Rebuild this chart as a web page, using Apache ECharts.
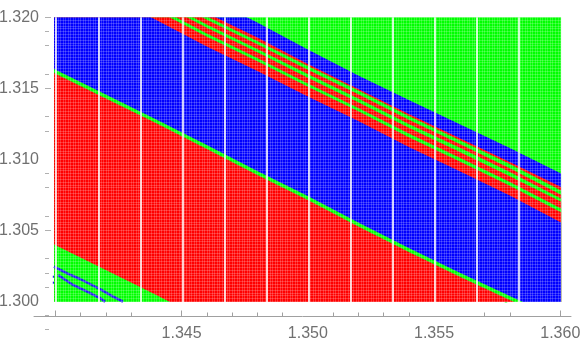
<!DOCTYPE html>
<html>
<head>
<meta charset="utf-8">
<style>
  html, body { margin: 0; padding: 0; background: #fff; }
  #chart { width: 581px; height: 343px; }
</style>
<script src="https://cdn.jsdelivr.net/npm/echarts@6/dist/echarts.min.js"></script>
</head>
<body>
<div id="chart"></div>
<script>
    // columns the long band edges were read at
    var columns = [1.33995, 1.342, 1.344, 1.346, 1.348, 1.350, 1.352, 1.354, 1.356, 1.358, 1.36003];

    // upper edge of each band at those columns, values above 1.320 are cut by the grid
    var blueTop = [1.32671, 1.32492, 1.32315, 1.32143, 1.31963, 1.31773, 1.31590, 1.31418, 1.31249, 1.31080, 1.30900];
    var redTop = [1.32566, 1.32389, 1.32217, 1.32030, 1.31858, 1.31671, 1.31495, 1.31319, 1.31150, 1.30981, 1.30805];
    var stripe3Top = [1.32544, 1.32368, 1.32192, 1.32006, 1.31833, 1.31657, 1.31484, 1.31305, 1.31136, 1.30967, 1.30780];
    var red3Top = [1.32521, 1.32345, 1.32169, 1.31983, 1.31810, 1.31630, 1.31458, 1.31278, 1.31109, 1.30937, 1.30750];
    var stripe2Top = [1.32488, 1.32312, 1.32136, 1.31949, 1.31777, 1.31601, 1.31428, 1.31249, 1.31083, 1.30911, 1.30724];
    var red2Top = [1.32465, 1.32289, 1.32113, 1.31926, 1.31754, 1.31574, 1.31402, 1.31222, 1.31053, 1.30880, 1.30701];
    var stripe1Top = [1.32425, 1.32249, 1.32073, 1.31886, 1.31713, 1.31534, 1.31361, 1.31182, 1.31013, 1.30840, 1.30654];
    var red1Top = [1.32401, 1.32225, 1.32049, 1.31863, 1.31690, 1.31511, 1.31338, 1.31155, 1.30986, 1.30813, 1.30627];
    var lowerBlueTop = [1.32333, 1.32157, 1.31981, 1.31795, 1.31622, 1.31442, 1.31270, 1.31087, 1.30918, 1.30745, 1.30555];

    // edges that run out through the bottom of the data
    var lineGreenTop = [[1.33995, 1.31636], [1.342, 1.31456], [1.344, 1.31280], [1.346, 1.31101], [1.348, 1.30918], [1.350, 1.30742], [1.352, 1.30555], [1.354, 1.30375], [1.356, 1.30203], [1.358, 1.30037], [1.35852, 1.29995]];
    var lowerRedTop = [[1.33995, 1.31608], [1.342, 1.31429], [1.344, 1.31253], [1.346, 1.31073], [1.348, 1.30890], [1.350, 1.30714], [1.352, 1.30527], [1.354, 1.30348], [1.356, 1.30175], [1.358, 1.30010], [1.35818, 1.29995]];
    var cornerGreenTop = [[1.33995, 1.30400], [1.342, 1.30220], [1.344, 1.30044], [1.34454, 1.29995]];

    // thin blue tracks and stray cells
    var blueTrack1 = [[1.33995, 1.30244], [1.34045, 1.30199], [1.34098, 1.30157], [1.34177, 1.30086], [1.34229, 1.30033], [1.34268, 1.29997]];
    var blueTrack2 = [[1.34011, 1.30185], [1.34070, 1.30115], [1.34126, 1.30068], [1.34177, 1.30023], [1.34197, 1.29997]];
    var blueCells = [[1.33995, 1.30173], [1.33995, 1.30131], [1.34011, 1.30131], [1.34041, 1.30150], [1.34070, 1.30087], [1.34098, 1.30068], [1.34126, 1.30023], [1.34157, 1.30009]];
    var greenCells = [[1.35591, 1.30171], [1.35689, 1.30094], [1.35722, 1.30059], [1.35769, 1.30009], [1.35785, 1.29999]];

    // columns with no points at all
    var emptyColumns = [1.34003, 1.34171, 1.34337, 1.34504, 1.34670, 1.34838, 1.35005, 1.35171, 1.35337, 1.35504, 1.35670, 1.35836];

    // ticks and labels as they are in the picture, some ticks are really absent
    var xMajorTicks = [1.340, 1.345, 1.360];
    var xMinorTicks = [1.341, 1.342, 1.343, 1.346, 1.347, 1.348, 1.349, 1.351, 1.352, 1.353, 1.354, 1.357, 1.358];
    var xLabels = [1.345, 1.350, 1.355, 1.360];
    var yMajorTicks = [1.320, 1.315, 1.305];
    var yMinorTicks = [1.319, 1.318, 1.316, 1.313, 1.312, 1.309, 1.308, 1.306, 1.303, 1.302, 1.301, 1.299, 1.298];
    var yLabels = [1.300, 1.305, 1.310, 1.315, 1.320];

    var BLUE = '#0000ff', RED = '#ff0000', GREEN = '#00ff00';
    var X_MIN = 1.339156, X_MAX = 1.360424, BOTTOM = 1.29995;

    function onColumns(values) {
      return values.map(function (v, i) { return [columns[i], v]; });
    }

    // bands are painted top to bottom, each one filled down to the end of the data
    function band(points, color) {
      return {
        type: 'line',
        data: points,
        symbol: 'none',
        silent: true,
        lineStyle: { width: 0 },
        areaStyle: { color: color, opacity: 1, origin: BOTTOM }
      };
    }

    function track(points) {
      return {
        type: 'line',
        data: points,
        symbol: 'none',
        silent: true,
        lineStyle: { width: 2.5, color: '#2020ee' }
      };
    }

    function cells(points, color) {
      return {
        type: 'scatter',
        data: points,
        symbol: 'rect',
        symbolSize: [2.5, 2],
        silent: true,
        itemStyle: { color: color, opacity: 1 }
      };
    }

    function vLine(x) {
      return [{ coord: [x, 1.32] }, { coord: [x, BOTTOM] }];
    }
    function hLine(y) {
      return [{ coord: [1.33995, y] }, { coord: [1.36003, y] }];
    }

    // faint lattice left between the plotted points
    function latticeLines() {
      var lines = [], i;
      for (i = 0; i <= 200; i++) lines.push(vLine(1.34 + i * 0.0001));
      for (i = 0; i <= 100; i++) lines.push(hLine(1.30 + i * 0.0002));
      return lines;
    }

    var topBase = onColumns(columns.map(function () { return 1.3205; }));

    var series = [
      band(topBase, GREEN),
      band(onColumns(blueTop), BLUE),
      band(onColumns(redTop), RED),
      band(onColumns(stripe3Top), GREEN),
      band(onColumns(red3Top), RED),
      band(onColumns(stripe2Top), GREEN),
      band(onColumns(red2Top), RED),
      band(onColumns(stripe1Top), GREEN),
      band(onColumns(red1Top), RED),
      band(onColumns(lowerBlueTop), BLUE),
      band(lineGreenTop, GREEN),
      band(lowerRedTop, RED),
      band(cornerGreenTop, GREEN),
      track(blueTrack1),
      track(blueTrack2),
      cells(blueCells, '#2020ee'),
      cells(greenCells, GREEN)
    ];

    // lattice and empty columns sit on top of all the bands
    series[series.length - 1].markLine = {
      silent: true,
      symbol: 'none',
      animation: false,
      label: { show: false },
      lineStyle: { color: 'rgba(255,255,255,0.27)', width: 0.7, type: 'solid' },
      data: latticeLines()
    };
    series.push({
      type: 'scatter',
      data: [],
      silent: true,
      z: 4,
      markLine: {
        silent: true,
        symbol: 'none',
        animation: false,
        label: { show: false },
        lineStyle: { color: '#fff', width: 1.6, type: 'solid' },
        data: emptyColumns.map(vLine)
      }
    });

    function xAxis(ticks, len, labels) {
      return {
        type: 'value',
        min: X_MIN,
        max: X_MAX,
        position: 'bottom',
        offset: -13.2,
        splitLine: { show: false },
        axisLine: { show: !!labels, onZero: false, lineStyle: { color: '#a0a0a0', width: 1 } },
        axisTick: { show: true, inside: true, length: len, customValues: ticks, lineStyle: { color: '#a0a0a0', width: 1 } },
        axisLabel: labels ? {
          show: true,
          customValues: labels,
          margin: 9,
          fontFamily: 'Liberation Sans',
          fontSize: 16,
          color: '#707070',
          formatter: function (v) { return v.toFixed(3); }
        } : { show: false }
      };
    }

    function yAxis(ticks, len, labels) {
      return {
        type: 'value',
        min: 1.298,
        max: 1.320,
        position: 'left',
        offset: -11,
        splitLine: { show: false },
        axisLine: { show: false },
        axisTick: { show: true, inside: true, length: len, customValues: ticks, lineStyle: { color: '#b0b0b0', width: 1 } },
        axisLabel: labels ? {
          show: true,
          customValues: labels,
          margin: 6,
          fontFamily: 'Liberation Sans',
          fontSize: 16,
          color: '#707070',
          formatter: function (v) { return v.toFixed(3); }
        } : { show: false }
      };
    }

    var myChart = echarts.init(document.getElementById('chart'));
    myChart.setOption({
      animation: false,
      backgroundColor: '#fff',
      grid: { left: 34, right: 10, top: 17.3, bottom: 13.3, outerBoundsMode: 'none' },
      xAxis: [xAxis(xMajorTicks, 6, xLabels), xAxis(xMinorTicks, 4)],
      yAxis: [yAxis(yMajorTicks, 6, yLabels), yAxis(yMinorTicks, 4)],
      series: series
    });
</script>
</body>
</html>
